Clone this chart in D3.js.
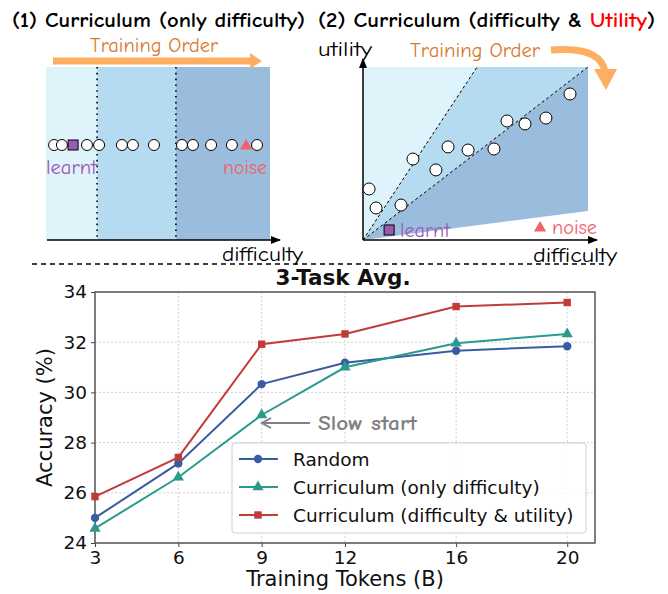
<!DOCTYPE html>
<html>
<head>
<meta charset="utf-8">
<title>Curriculum vs random</title>
<style>
  body { margin: 0; background: #fff; }
  .comic { font-family: "Comic Sans MS", "Comic Neue", "DejaVu Sans", sans-serif; }
  .mpl { font-family: "DejaVu Sans", sans-serif; }
</style>
</head>
<body>
<svg width="668" height="594"></svg>
<script src="https://cdn.jsdelivr.net/npm/d3@7"></script>
<script>

// ---- data: line chart ----
var tokens = [3, 6, 9, 12, 16, 20];
var randomAcc = [25.0, 27.17, 30.33, 31.18, 31.66, 31.84];
var currDiffAcc = [24.58, 26.62, 29.1, 31.0, 31.96, 32.33];
var currDiffUtilAcc = [25.85, 27.41, 31.92, 32.33, 33.42, 33.58];
var seriesNames = ["Random", "Curriculum (only difficulty)", "Curriculum (difficulty & utility)"];
var yTicks = [24, 26, 28, 30, 32, 34];

// ---- data: sketch (1), difficulty on a 0-100 scale ----
var p1Samples = [3.6, 7.1, 18.3, 23.7, 33.9, 38.8, 48.2, 60.7, 65.6, 73.7, 83.0, 94.2];
var p1Learnt = 12.1;
var p1Noise = 89.3;
var p1Bands = [0, 22.8, 58.0, 100];

// ---- data: sketch (2), [difficulty, utility] on 0-100 scales ----
var p2Samples = [[2.7, 29.5], [5.8, 18.5], [16.9, 20.2], [22.2, 46.8], [32.4, 40.5], [37.8, 53.8],
                 [46.7, 52.0], [58.2, 52.6], [64, 68.8], [72, 67.1], [81.3, 70.5], [92, 84.4]];
var p2Learnt = [11.6, 5.8];
var p2Noise = [78.7, 7.5];
var p2Splits = [50.7, 100];   // x where the dashed lines reach the top
var p2Floor = 16.8;           // utility where the dark band ends on the right

var svg = d3.select("svg");

//arrow markers
var defs = svg.append("defs");
defs.append("marker").attr("id", "blackHead")
    .attr("viewBox", "0 0 10 10").attr("refX", 9).attr("refY", 5)
    .attr("markerWidth", 7).attr("markerHeight", 7).attr("orient", "auto")
  .append("path").attr("d", "M0,1 L10,5 L0,9 Z").attr("fill", "#000");

var orange = "#fdae61", orangeText = "#d9782d", purple = "#9b59b6", noiseRed = "#f0616a";
var bandColors = ["#dff3fa", "#b5dbf0", "#9bbddd"];

function circles(g, pts, r) {
    g.selectAll("circle.s").data(pts).enter().append("circle")
        .attr("class", "s")
        .attr("cx", d => d[0]).attr("cy", d => d[1]).attr("r", r)
        .attr("fill", "#fff").attr("stroke", "#000").attr("stroke-width", 1);
}
function square(g, x, y, s) {
    g.append("rect").attr("x", x - s / 2).attr("y", y - s / 2).attr("width", s).attr("height", s)
        .attr("fill", purple).attr("stroke", "#000").attr("stroke-width", 1);
}
function triangle(g, x, y, s) {
    g.append("path").attr("d", d3.symbol(d3.symbolTriangle, s * s * 0.45)())
        .attr("transform", "translate(" + x + "," + (y + 1) + ")").attr("fill", noiseRed);
}
// comic-style label stretched to the width it has in the picture
function label(g, x, y, txt, size, color, width, anchor) {
    return g.append("text").attr("class", "comic").attr("x", x).attr("y", y)
        .attr("text-anchor", anchor || "start")
        .attr("font-size", size).attr("fill", color)
        .attr("textLength", width).attr("lengthAdjust", "spacingAndGlyphs").text(txt);
}

//****************sketch (1)****************//
var p1 = svg.append("g");
var d1 = d3.scaleLinear().domain([0, 100]).range([46, 270]);
var p1Top = 67, p1Bot = 240, p1Row = 145;

p1.selectAll("rect.band").data(d3.pairs(p1Bands)).enter().append("rect")
    .attr("x", d => d1(d[0])).attr("y", p1Top)
    .attr("width", d => d1(d[1]) - d1(d[0])).attr("height", p1Bot - p1Top)
    .attr("fill", (d, i) => bandColors[i]);

p1.selectAll("line.split").data(p1Bands.slice(1, 3)).enter().append("line")
    .attr("x1", d => d1(d)).attr("x2", d => d1(d)).attr("y1", p1Top).attr("y2", p1Bot)
    .attr("stroke", "#000").attr("stroke-width", 1.6).attr("stroke-dasharray", "1.6,4.2");

p1.append("line").attr("x1", 47).attr("x2", 280).attr("y1", p1Bot).attr("y2", p1Bot)
    .attr("stroke", "#000").attr("stroke-width", 1.5).attr("marker-end", "url(#blackHead)");

circles(p1, p1Samples.map(v => [d1(v), p1Row]), 5.5);
square(p1, d1(p1Learnt), p1Row, 10);
triangle(p1, d1(p1Noise), p1Row, 12);

label(p1, 46, 174, "learnt", 21, purple, 51);
label(p1, 223, 174, "noise", 21, noiseRed, 44);
label(p1, 222, 261, "difficulty", 21, "#000", 81);

//straight training-order arrow
p1.append("rect").attr("x", 53).attr("y", 57.5).attr("width", 198).attr("height", 7).attr("fill", orange);
p1.append("path").attr("d", "M250,53 L262,61 L250,69 Z").attr("fill", orange);
label(p1, 90, 52, "Training Order", 21, orangeText, 128);

p1.append("text").attr("class", "comic").attr("x", 12).attr("y", 27)
    .attr("font-size", 20).attr("font-weight", "bold")
    .attr("textLength", 293).attr("lengthAdjust", "spacingAndGlyphs")
    .text("(1) Curriculum (only difficulty)");

//****************sketch (2)****************//
var p2 = svg.append("g");
var dx = d3.scaleLinear().domain([0, 100]).range([363, 588]);
var uy = d3.scaleLinear().domain([0, 100]).range([240, 67]);
var o = [dx(0), uy(0)];

var regions = [
    [o, [dx(0), uy(100)], [dx(p2Splits[0]), uy(100)]],
    [o, [dx(p2Splits[0]), uy(100)], [dx(p2Splits[1]), uy(100)]],
    [o, [dx(p2Splits[1]), uy(100)], [dx(100), uy(p2Floor)]]
];
p2.selectAll("path.region").data(regions).enter().append("path")
    .attr("d", d => d3.line()(d) + "Z").attr("fill", (d, i) => bandColors[i]);

p2.selectAll("line.split").data(p2Splits).enter().append("line")
    .attr("x1", o[0]).attr("y1", o[1]).attr("x2", d => dx(d)).attr("y2", uy(100))
    .attr("stroke", "#000").attr("stroke-width", 1).attr("stroke-dasharray", "3,2.5");

p2.append("line").attr("x1", o[0]).attr("y1", o[1]).attr("x2", 597).attr("y2", o[1])
    .attr("stroke", "#000").attr("stroke-width", 1.5).attr("marker-end", "url(#blackHead)");
p2.append("line").attr("x1", o[0]).attr("y1", o[1]).attr("x2", o[0]).attr("y2", 59)
    .attr("stroke", "#000").attr("stroke-width", 1.5).attr("marker-end", "url(#blackHead)");

circles(p2, p2Samples.map(d => [dx(d[0]), uy(d[1])]), 6);
square(p2, dx(p2Learnt[0]), uy(p2Learnt[1]), 10);
triangle(p2, dx(p2Noise[0]), uy(p2Noise[1]), 12);

label(p2, 400, 237, "learnt", 21, purple, 50);
label(p2, 552, 234, "noise", 21, noiseRed, 45);
label(p2, 533, 262, "difficulty", 21, "#000", 84);
label(p2, 318, 56, "utility", 21, "#000", 54);

//curved training-order arrow
label(p2, 410, 57, "Training Order", 21, orangeText, 130);
p2.append("path").attr("d", "M551,50 Q601,46 605,72").attr("fill", "none")
    .attr("stroke", orange).attr("stroke-width", 7);
p2.append("path").attr("d", "M594,69 L617,69 L606,90 Z").attr("fill", orange);

var t2 = p2.append("text").attr("class", "comic").attr("x", 318).attr("y", 27)
    .attr("font-size", 20).attr("font-weight", "bold")
    .attr("textLength", 337).attr("lengthAdjust", "spacingAndGlyphs");
t2.append("tspan").text("(2) Curriculum (difficulty & ");
t2.append("tspan").attr("fill", "#f00").text("Utility");
t2.append("tspan").text(")");

//separator
svg.append("line").attr("x1", 32).attr("x2", 608).attr("y1", 264).attr("y2", 264)
    .attr("stroke", "#000").attr("stroke-width", 1.5).attr("stroke-dasharray", "5,4");

//****************line chart****************//
var m = {left: 95, right: 595, top: 292, bottom: 543};
var x = d3.scaleLinear().domain([3, 21]).range([m.left, m.right]);
var y = d3.scaleLinear().domain([24, 34]).range([m.bottom, m.top]);
var chart = svg.append("g").attr("class", "mpl");

//grid
chart.selectAll("line.gx").data(tokens).enter().append("line")
    .attr("x1", d => x(d)).attr("x2", d => x(d)).attr("y1", m.top).attr("y2", m.bottom)
    .attr("stroke", "#c8c8c8").attr("stroke-width", 0.8).attr("stroke-dasharray", "2,2");
chart.selectAll("line.gy").data(yTicks).enter().append("line")
    .attr("x1", m.left).attr("x2", m.right).attr("y1", d => y(d)).attr("y2", d => y(d))
    .attr("stroke", "#c8c8c8").attr("stroke-width", 0.8).attr("stroke-dasharray", "2,2");

//axes
var xAxis = chart.append("g").attr("transform", "translate(0," + m.bottom + ")")
    .call(d3.axisBottom(x).tickValues(tokens).tickSize(4).tickPadding(4));
var yAxis = chart.append("g").attr("transform", "translate(" + m.left + ",0)")
    .call(d3.axisLeft(y).tickValues(yTicks).tickSize(4).tickPadding(4));
[xAxis, yAxis].forEach(a => {
    a.select(".domain").remove();
    a.selectAll("text").attr("font-size", 18.5).attr("fill", "#111").attr("font-family", "DejaVu Sans, sans-serif");
    a.selectAll("line").attr("stroke", "#444");
});

chart.append("rect").attr("x", m.left).attr("y", m.top)
    .attr("width", m.right - m.left).attr("height", m.bottom - m.top)
    .attr("fill", "none").attr("stroke", "#555").attr("stroke-width", 1.5);

chart.append("text").attr("x", 345).attr("y", 586).attr("text-anchor", "middle")
    .attr("font-size", 21).attr("fill", "#111").text("Training Tokens (B)");
chart.append("text").attr("transform", "translate(52," + ((m.top + m.bottom) / 2) + ") rotate(-90)")
    .attr("text-anchor", "middle").attr("font-size", 21).attr("fill", "#111").text("Accuracy (%)");
chart.append("text").attr("x", 343).attr("y", 285).attr("text-anchor", "middle")
    .attr("font-size", 21.5).attr("font-weight", "bold").attr("fill", "#111").text("3-Task Avg.");

//slow start annotation
chart.append("line").attr("x1", 310).attr("x2", 263).attr("y1", 423).attr("y2", 423)
    .attr("stroke", "#808080").attr("stroke-width", 2);
chart.append("path").attr("d", "M271,418 L262,423 L271,428").attr("fill", "none")
    .attr("stroke", "#808080").attr("stroke-width", 2);
chart.append("text").attr("class", "comic").attr("x", 318).attr("y", 430)
    .attr("font-size", 20).attr("font-weight", "bold").attr("fill", "#808080")
    .attr("textLength", 99).attr("lengthAdjust", "spacingAndGlyphs").text("Slow start");

var series = [
    {name: seriesNames[0], values: randomAcc, color: "#3a5ba3", shape: d3.symbolCircle},
    {name: seriesNames[1], values: currDiffAcc, color: "#2a9a8c", shape: d3.symbolTriangle},
    {name: seriesNames[2], values: currDiffUtilAcc, color: "#c23b3b", shape: d3.symbolSquare}
];
var line = d3.line().x((d, i) => x(tokens[i])).y(d => y(d));

series.forEach(s => {
    chart.append("path").attr("d", line(s.values)).attr("fill", "none")
        .attr("stroke", s.color).attr("stroke-width", 2);
    chart.selectAll(null).data(s.values).enter().append("path")
        .attr("d", d3.symbol(s.shape, 55)())
        .attr("transform", (d, i) => "translate(" + x(tokens[i]) + "," + y(d) + ")")
        .attr("fill", s.color);
});

//legend
var lg = chart.append("g");
lg.append("rect").attr("x", 232).attr("y", 443).attr("width", 354).attr("height", 90)
    .attr("rx", 3).attr("fill", "#fff").attr("fill-opacity", 0.8)
    .attr("stroke", "#d0d0d0").attr("stroke-width", 1);
series.forEach((s, i) => {
    var ly = 459 + i * 28;
    lg.append("line").attr("x1", 239).attr("x2", 278).attr("y1", ly).attr("y2", ly)
        .attr("stroke", s.color).attr("stroke-width", 2);
    lg.append("path").attr("d", d3.symbol(s.shape, 55)())
        .attr("transform", "translate(258," + ly + ")").attr("fill", s.color);
    lg.append("text").attr("x", 293).attr("y", ly + 6.5).attr("font-size", 18.5)
        .attr("fill", "#111").text(s.name);
});

</script>
</body>
</html>
